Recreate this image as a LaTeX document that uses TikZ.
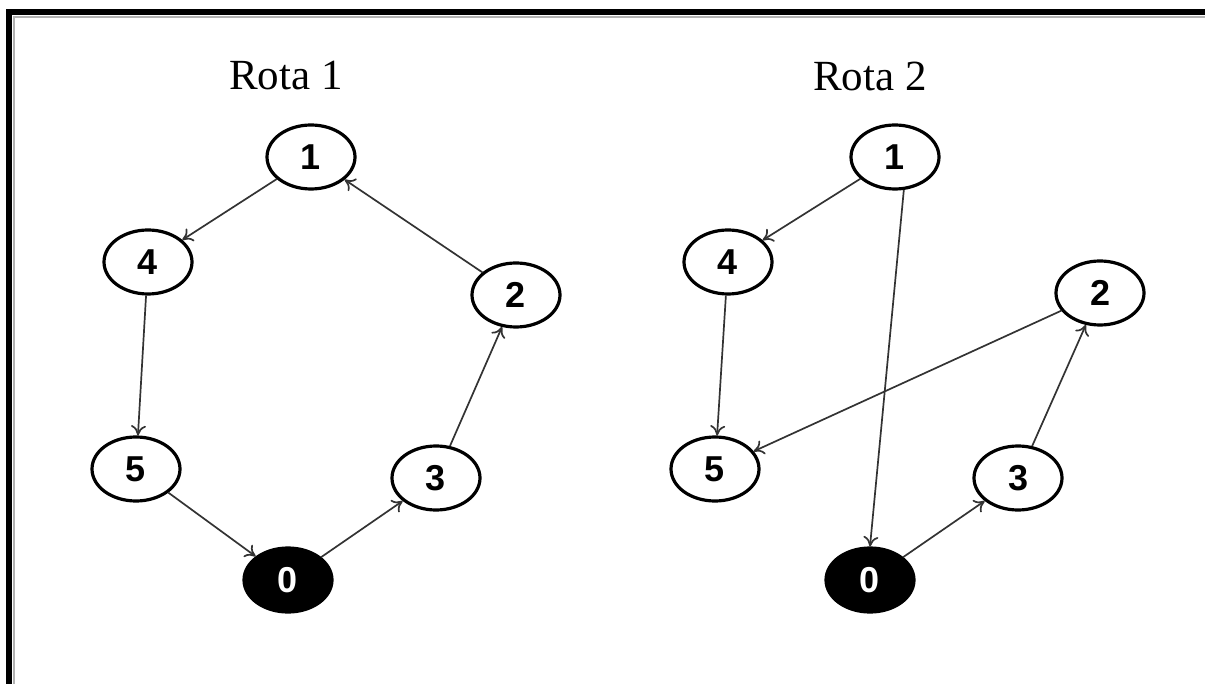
\documentclass[tikz,border=0pt]{standalone}
\usepackage{fontspec}
\setmainfont{Liberation Serif}
\newfontfamily\numfont{Liberation Sans}
\usetikzlibrary{arrows.meta,shapes.geometric}
\tikzset{
  city/.style={ellipse,draw=black,line width=3.2pt,minimum width=88pt,minimum height=64pt,inner sep=0pt,
    font=\numfont\bfseries\fontsize{36}{36}\selectfont},
  depot/.style={city,fill=black,text=white},
  rotatitle/.style={font=\fontsize{43}{43}\selectfont}
}
\begin{document}
\begin{tikzpicture}[x=1pt,y=-1pt,>={To[length=10pt,width=15pt]},every edge/.append style={black!80}]
\useasboundingbox (0,0) rectangle (1205,684);
% frame
\draw[line width=6pt] (9,700) -- (9,12) -- (1215,12);
\draw[gray!60,line width=2pt] (14,700) -- (14,17) -- (1215,17);
%
% Rota 1
\node (t1) [rotatitle] at (286,76) {Rota 1};
\node (r1n1) [city] at (311,157) {1};
\node (r1n4) [city] at (148,262) {4};
\node (r1n2) [city] at (516,295) {2};
\node (r1n5) [city] at (136,469) {5};
\node (r1n3) [city] at (436,478) {3};
\node (r1n0) [depot] at (288,580) {0};
%
\path[->,line width=1.7pt] (r1n1) edge (r1n4);
\path[->,line width=1.7pt] (r1n4) edge (r1n5);
\path[->,line width=1.7pt] (r1n5) edge (r1n0);
\path[->,line width=1.7pt] (r1n0) edge (r1n3);
\path[->,line width=1.7pt] (r1n3) edge (r1n2);
\path[->,line width=1.7pt] (r1n2) edge (r1n1);
%
% Rota 2
\node (t2) [rotatitle] at (870,76) {Rota 2};
\node (r2n1) [city] at (895,157) {1};
\node (r2n4) [city] at (728,262) {4};
\node (r2n2) [city] at (1100,293) {2};
\node (r2n5) [city] at (715,469) {5};
\node (r2n3) [city] at (1018,478) {3};
\node (r2n0) [depot] at (870,580) {0};
%
\path[->,line width=1.7pt] (r2n1) edge (r2n4);
\path[->,line width=1.7pt] (r2n4) edge (r2n5);
\path[->,line width=1.7pt] (r2n2) edge (r2n5);
\path[->,line width=1.7pt] (r2n1.-75) edge (r2n0.north);
\path[->,line width=1.7pt] (r2n0) edge (r2n3);
\path[->,line width=1.7pt] (r2n3) edge (r2n2);
\end{tikzpicture}
\end{document}
